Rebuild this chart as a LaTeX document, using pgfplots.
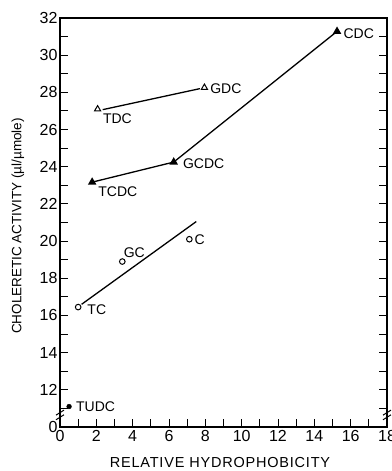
\documentclass[border=0pt]{standalone}
\usepackage{fontspec}
\setmainfont{Liberation Sans}
\usepackage{pgfplots}
\pgfplotsset{compat=1.18}
\begin{document}
\begin{tikzpicture}[x=1pt,y=1pt]
\begin{axis}[
  at={(0,0)}, anchor=south west,
  scale only axis, width=327pt, height=409pt,
  xmin=0, xmax=18, ymin=10, ymax=32,
  xtick={0,2,...,18}, minor xtick={1,3,...,17},
  ytick={10,12,...,32},
  yticklabels={0,12,14,16,18,20,22,24,26,28,30,32},
  minor ytick={11,13,...,31},
  tick align=inside, major tick length=8pt, minor tick length=8pt,
  xtick pos=left, ytick pos=both,
  every tick/.style={black, line width=1pt},
  axis line style={line width=1.2pt},
  ticklabel style={font=\fontsize{16}{16}\selectfont},
  yticklabel style={xshift=1pt},
  /pgf/number format/assume math mode=true,
  xlabel={RELATIVE HYDROPHOBICITY},
  ylabel={CHOLERETIC ACTIVITY (µl/µmole)},
  every axis x label/.style={at={(axis description cs:0.4893,0)}, yshift=-40pt, anchor=base, font=\fontsize{14.5}{14.5}\selectfont\addfontfeature{LetterSpace=5.5}},
  every axis y label/.style={at={(axis description cs:0,0.4914)}, xshift=-42pt, rotate=90, anchor=center, font=\fontsize{13.5}{13.5}\selectfont},
  clip=false,
]
% TUDC
\addplot[only marks, mark=*, mark size=2.4pt, black] coordinates {(0.5,11.1)};
% TC, GC, C
\addplot[only marks, mark=o, mark size=2.8pt, black, line width=1pt] coordinates {(1.0,16.45) (3.43,18.9) (7.12,20.1)};
\addplot[black, line width=1.3pt] coordinates {(1.19,16.6) (7.5,21.05)};
% TDC, GDC
\addplot[only marks, mark=triangle, mark size=3.5pt, black, line width=1pt] coordinates {(2.07,27.1) (7.95,28.26)};
\addplot[black, line width=1.3pt] coordinates {(2.35,27.07) (7.7,28.2)};
% TCDC, GCDC, CDC
\addplot[black, line width=1.3pt, mark=triangle*, mark size=3.6pt] coordinates {(1.77,23.17) (6.26,24.25) (15.25,31.28)};

\begin{scope}[every node/.style={anchor=west, inner sep=0pt, font=\fontsize{14}{14}\selectfont}]
\node at (axis cs:0.88,11.08) {TUDC};
\node at (axis cs:1.5,16.3) {TC};
\node at (axis cs:3.5,19.4) {GC};
\node at (axis cs:7.4,20.1) {C};
\node at (axis cs:2.36,26.6) {TDC};
\node at (axis cs:8.26,28.2) {GDC};
\node at (axis cs:2.1,22.68) {TCDC};
\node at (axis cs:6.76,24.18) {GCDC};
\node at (axis cs:15.6,31.13) {CDC};
\end{scope}
% axis break marks
\draw[line width=1pt] ([xshift=-4pt,yshift=-3pt]axis cs:0,10.55) -- ([xshift=4pt,yshift=2pt]axis cs:0,10.55);
\draw[line width=1pt] ([xshift=-4pt,yshift=-3pt]axis cs:0,10.8) -- ([xshift=4pt,yshift=2pt]axis cs:0,10.8);
\draw[line width=1pt] ([xshift=-4pt,yshift=-3pt]axis cs:18,10.55) -- ([xshift=4pt,yshift=2pt]axis cs:18,10.55);
\draw[line width=1pt] ([xshift=-4pt,yshift=-3pt]axis cs:18,10.8) -- ([xshift=4pt,yshift=2pt]axis cs:18,10.8);
\end{axis}
\pgfresetboundingbox
\useasboundingbox (-60,-44) rectangle (331,427);
\end{tikzpicture}
\end{document}
